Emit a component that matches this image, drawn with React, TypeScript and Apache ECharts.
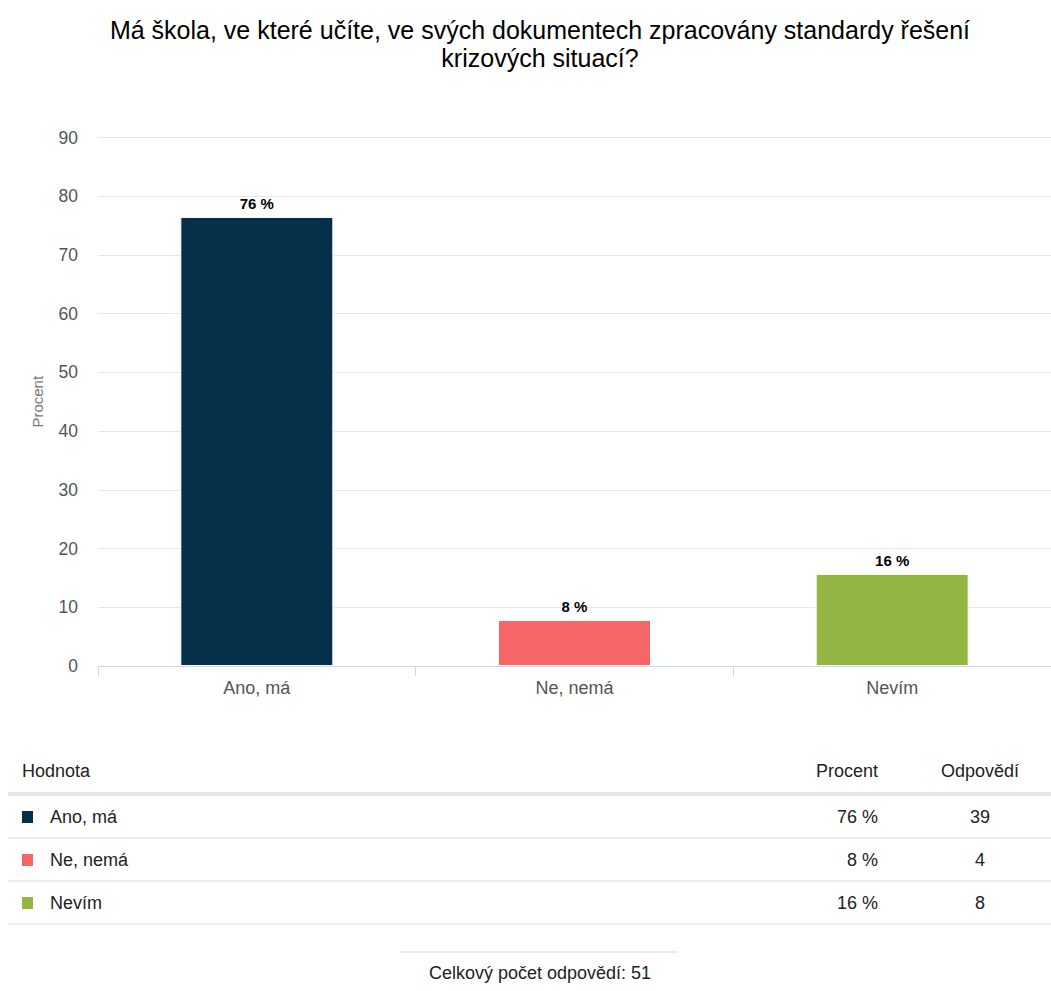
import React, { useEffect, useRef } from "react";
import * as echarts from "echarts";

const TITLE_LINES = [
  "Má škola, ve které učíte, ve svých dokumentech zpracovány standardy řešení",
  "krizových situací?",
];
const categories = ["Ano, má", "Ne, nemá", "Nevím"];
const percents = [76.47, 7.84, 15.69];
const counts = [39, 4, 8];
const colors = ["#06304a", "#f66666", "#92b641"];
const yTicks = { min: 0, max: 90, interval: 10 };
const yAxisName = "Procent";
const tableHeaders = ["Hodnota", "Procent", "Odpovědí"];
const totalLabel = "Celkový počet odpovědí: ";
const total = 51;

const FONT = "Liberation Sans, Arial, sans-serif";
const TXT = "#222";

export default function App() {
  const ref = useRef<HTMLDivElement>(null);
  useEffect(() => {
    if (!ref.current) return;
    const chart = echarts.init(ref.current, null, { renderer: "svg" });

    const graphics: any[] = [];
    TITLE_LINES.forEach((t, i) => {
      graphics.push({
        type: "text",
        x: 540,
        y: 30 + i * 28,
        style: {
          text: t,
          fill: "#000",
          fontSize: 25,
          fontFamily: FONT,
          textAlign: "center",
          textVerticalAlign: "middle",
        },
      });
    });
    const tf = { fill: TXT, fontSize: 18, fontFamily: FONT, textVerticalAlign: "middle" };
    const hy = 771;
    graphics.push({ type: "text", x: 22, y: hy, style: { ...tf, text: tableHeaders[0] } });
    graphics.push({ type: "text", x: 878, y: hy, style: { ...tf, text: tableHeaders[1], textAlign: "right" } });
    graphics.push({ type: "text", x: 980, y: hy, style: { ...tf, text: tableHeaders[2], textAlign: "center" } });
    graphics.push({ type: "rect", shape: { x: 8, y: 792, width: 1043, height: 4 }, style: { fill: "#e6e6e6" } });
    categories.forEach((c, i) => {
      const y = 817 + i * 43;
      graphics.push({ type: "rect", shape: { x: 22, y: y - 6, width: 11, height: 12 }, style: { fill: colors[i] } });
      graphics.push({ type: "text", x: 50, y, style: { ...tf, text: c } });
      graphics.push({ type: "text", x: 878, y, style: { ...tf, text: Math.round(percents[i]) + " %", textAlign: "right" } });
      graphics.push({ type: "text", x: 980, y, style: { ...tf, text: String(counts[i]), textAlign: "center" } });
      graphics.push({ type: "rect", shape: { x: 8, y: y + 20, width: 1043, height: 2 }, style: { fill: "#ebebeb" } });
    });
    graphics.push({ type: "rect", shape: { x: 400, y: 951, width: 278, height: 2 }, style: { fill: "#ebebeb" } });
    graphics.push({ type: "text", x: 540, y: 973, style: { ...tf, text: totalLabel + total, textAlign: "center" } });

    chart.setOption({
      animation: false,
      grid: { left: 98, top: 137.5, width: 956, height: 528.5, containLabel: false },
      xAxis: {
        type: "category",
        data: categories,
        axisLine: { lineStyle: { color: "#ccd6eb", width: 1 } },
        axisTick: { show: true, length: 10, lineStyle: { color: "#ccd6eb" } },
        axisLabel: { color: "#555", fontSize: 18, fontFamily: FONT, margin: 13 },
      },
      yAxis: {
        type: "value",
        min: yTicks.min,
        max: yTicks.max,
        interval: yTicks.interval,
        name: yAxisName,
        nameLocation: "middle",
        nameGap: 53,
        nameRotate: 90,
        nameTextStyle: { color: "#777", fontSize: 15, fontFamily: FONT },
        axisLine: { show: false },
        axisTick: { show: false },
        axisLabel: { color: "#555", fontSize: 17.5, fontFamily: FONT, margin: 20 },
        splitLine: { lineStyle: { color: "#e6e6e6", width: 1 } },
      },
      series: [
        {
          type: "bar",
          barWidth: 153,
          data: percents.map((v, i) => ({ value: v, itemStyle: { color: colors[i], borderColor: "#fff", borderWidth: 1 } })),
          label: {
            show: true,
            position: "top",
            distance: 6,
            formatter: (p: any) => Math.round(p.value) + " %",
            color: "#000",
            fontWeight: "bold",
            fontSize: 15,
            fontFamily: FONT,
            textBorderColor: "#fff",
            textBorderWidth: 2,
          },
        },
      ],
      graphic: graphics,
    });
    return () => chart.dispose();
  }, []);
  return (
    <div
      ref={ref}
      style={{ position: "absolute", left: 0, top: 0, width: 1051, height: 991, background: "#fff" }}
    />
  );
}
